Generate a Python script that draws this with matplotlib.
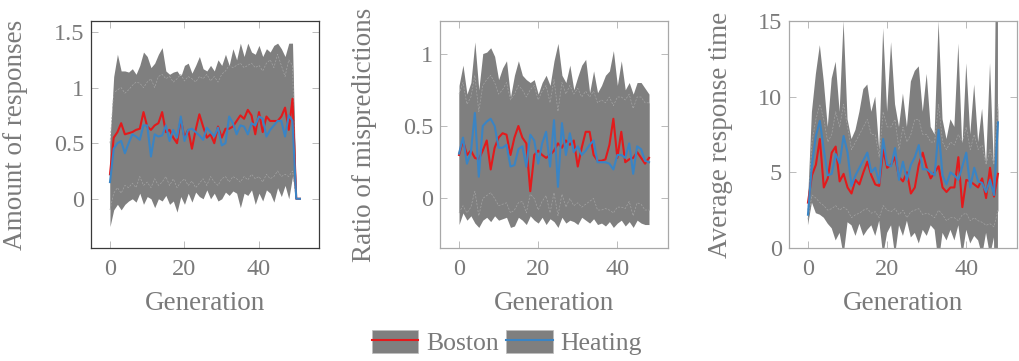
import matplotlib
matplotlib.use("Agg")
import matplotlib.pyplot as plt
import numpy as np
from matplotlib.patches import Patch
from matplotlib.lines import Line2D
from matplotlib.legend_handler import HandlerTuple

# ---- panel 1: amount of responses (generations 0..51) ----
gen1 = list(range(52))
resp_boston = [0.22, 0.55, 0.6, 0.68, 0.58, 0.59, 0.6, 0.62, 0.63, 0.78, 0.65, 0.62, 0.66, 0.68, 0.78, 0.6,
               0.62, 0.55, 0.5, 0.72, 0.55, 0.62, 0.45, 0.62, 0.76, 0.65, 0.55, 0.58, 0.5, 0.65, 0.55, 0.63,
               0.63, 0.65, 0.7, 0.75, 0.72, 0.8, 0.75, 0.58, 0.78, 0.6, 0.74, 0.7, 0.7, 0.7, 0.74, 0.82,
               0.62, 0.9, 0.0, 0.0]
resp_heating = [0.15, 0.45, 0.5, 0.52, 0.41, 0.5, 0.58, 0.56, 0.53, 0.66, 0.66, 0.38, 0.58, 0.56, 0.57, 0.66,
                0.52, 0.62, 0.55, 0.74, 0.52, 0.62, 0.63, 0.6, 0.57, 0.53, 0.64, 0.6, 0.56, 0.64, 0.48, 0.5,
                0.74, 0.68, 0.58, 0.66, 0.65, 0.58, 0.68, 0.66, 0.74, 0.72, 0.56, 0.62, 0.66, 0.7, 0.7, 0.56,
                0.75, 0.7, 0.0, 0.0]
resp_boston_hi = [0.5, 1.1, 1.3, 1.15, 1.15, 1.14, 1.17, 1.12, 1.2, 1.32, 1.28, 1.18, 1.22, 1.3, 1.36, 1.15,
                  1.12, 1.14, 1.15, 1.1, 1.2, 1.22, 1.13, 1.2, 1.28, 1.17, 1.15, 1.2, 1.15, 1.25, 1.2, 1.3,
                  1.2, 1.35, 1.25, 1.4, 1.28, 1.4, 1.32, 1.3, 1.38, 1.28, 1.35, 1.32, 1.38, 1.4, 1.35, 1.28,
                  1.4, 1.4, 0.0, 0.0]
resp_boston_lo = [-0.25, -0.1, -0.05, -0.1, -0.05, -0.02, 0.0, -0.03, 0.05, -0.05, 0.02, 0.0, -0.08, 0.0,
                  -0.02, 0.03, -0.05, -0.02, -0.12, 0.02, -0.05, 0.05, -0.03, 0.06, 0.02, 0.0, 0.08, 0.0, 0.05,
                  -0.02, 0.0, 0.06, 0.03, 0.07, 0.05, -0.08, 0.05, 0.03, 0.08, -0.05, 0.05, -0.02, 0.08, 0.05,
                  -0.03, 0.1, 0.02, 0.12, 0.0, 0.2, 0.0, 0.0]
resp_heating_hi = [0.5, 0.95, 0.98, 1.0, 0.95, 0.98, 1.02, 1.05, 1.04, 1.0, 1.05, 1.08, 1.0, 1.1, 1.12, 1.08,
                   1.1, 1.05, 1.08, 1.12, 1.06, 1.1, 1.08, 1.05, 1.1, 1.08, 1.12, 1.06, 1.1, 1.05, 1.12, 1.15,
                   1.2, 1.18, 1.2, 1.22, 1.18, 1.2, 1.22, 1.18, 1.2, 1.15, 1.22, 1.25, 1.18, 1.3, 1.2, 1.1,
                   1.25, 1.2, 0.0, 0.0]
resp_heating_lo = [-0.1, 0.05, 0.1, 0.05, 0.12, 0.1, 0.14, 0.1, 0.2, 0.12, 0.15, 0.1, 0.18, 0.12, 0.15, 0.2,
                   0.12, 0.18, 0.1, 0.15, 0.18, 0.12, 0.16, 0.1, 0.14, 0.18, 0.12, 0.2, 0.15, 0.12, 0.18, 0.2,
                   0.15, 0.2, 0.18, 0.15, 0.2, 0.17, 0.22, 0.18, 0.2, 0.15, 0.22, 0.18, 0.2, 0.25, 0.2, 0.22,
                   0.2, 0.25, 0.0, 0.0]

# ---- panel 2: ratio of mispredictions (generations 0..48) ----
gen2 = list(range(49))
mis_boston = [0.3, 0.4, 0.3, 0.33, 0.28, 0.27, 0.33, 0.4, 0.2, 0.35, 0.42, 0.45, 0.44, 0.3, 0.42, 0.5, 0.42,
              0.38, 0.05, 0.3, 0.33, 0.3, 0.28, 0.3, 0.33, 0.38, 0.35, 0.4, 0.37, 0.4, 0.22, 0.35, 0.46, 0.46,
              0.3, 0.26, 0.26, 0.27, 0.37, 0.55, 0.28, 0.46, 0.25, 0.27, 0.28, 0.32, 0.28, 0.24, 0.28]
mis_heating = [0.31, 0.42, 0.24, 0.32, 0.59, 0.15, 0.5, 0.53, 0.55, 0.5, 0.35, 0.35, 0.37, 0.22, 0.23, 0.34,
               0.36, 0.22, 0.44, 0.4, 0.24, 0.38, 0.46, 0.22, 0.54, 0.08, 0.52, 0.3, 0.45, 0.32, 0.36, 0.3,
               0.33, 0.37, 0.4, 0.25, 0.25, 0.25, 0.24, 0.2, 0.3, 0.3, 0.28, 0.38, 0.17, 0.36, 0.34, 0.26, 0.25]
mis_boston_hi = [0.78, 0.92, 0.72, 0.8, 1.08, 0.75, 1.0, 1.01, 1.04, 0.98, 0.82, 0.9, 0.95, 0.7, 0.85, 0.95,
                 0.85, 0.82, 0.8, 0.82, 0.72, 0.8, 0.85, 0.78, 0.95, 1.07, 0.85, 0.8, 0.92, 0.75, 0.84, 0.92,
                 0.96, 0.73, 0.88, 0.73, 0.78, 0.85, 0.88, 1.02, 0.78, 0.95, 0.75, 0.8, 0.72, 0.8, 0.8, 0.76, 0.72]
mis_boston_lo = [-0.18, -0.1, -0.15, -0.12, -0.17, -0.2, -0.15, -0.13, -0.16, -0.12, -0.15, -0.14, -0.13,
                 -0.2, -0.19, -0.13, -0.15, -0.18, -0.12, -0.15, -0.17, -0.13, -0.18, -0.14, -0.16, -0.2,
                 -0.13, -0.17, -0.15, -0.16, -0.18, -0.13, -0.15, -0.17, -0.14, -0.18, -0.17, -0.19, -0.16,
                 -0.2, -0.17, -0.15, -0.19, -0.16, -0.2, -0.15, -0.17, -0.18, -0.18]
mis_heating_hi = [0.72, 0.8, 0.65, 0.7, 0.85, 0.6, 0.78, 0.82, 0.85, 0.8, 0.72, 0.75, 0.8, 0.68, 0.72, 0.78,
                  0.75, 0.7, 0.75, 0.78, 0.68, 0.74, 0.78, 0.66, 0.82, 0.6, 0.8, 0.72, 0.78, 0.72, 0.76, 0.7,
                  0.74, 0.7, 0.74, 0.66, 0.68, 0.66, 0.7, 0.64, 0.7, 0.7, 0.68, 0.72, 0.62, 0.7, 0.7, 0.66, 0.66]
mis_heating_lo = [-0.1, -0.05, -0.1, -0.06, 0.05, -0.12, 0.0, 0.02, 0.04, 0.0, -0.05, -0.04, -0.03, -0.1,
                  -0.08, -0.03, -0.02, -0.1, 0.03, 0.0, -0.08, -0.02, 0.02, -0.1, 0.04, -0.12, 0.03, -0.06,
                  0.0, -0.05, -0.03, -0.06, -0.04, -0.02, 0.0, -0.08, -0.08, -0.07, -0.08, -0.1, -0.06, -0.06,
                  -0.07, -0.02, -0.12, -0.03, -0.04, -0.08, -0.08]

# ---- panel 3: average response time (generations 0..48) ----
gen3 = list(range(49))
time_boston = [3.0, 4.8, 5.5, 7.2, 4.0, 4.6, 6.3, 6.7, 4.4, 4.9, 4.0, 3.6, 4.5, 4.2, 5.0, 5.7, 4.8, 4.2, 4.1,
               6.5, 5.3, 5.5, 6.0, 4.7, 4.4, 5.0, 3.6, 4.0, 5.5, 6.3, 5.3, 4.6, 5.0, 5.4, 4.0, 3.7, 4.0, 4.0,
               6.0, 2.7, 4.5, 4.4, 4.2, 4.0, 4.6, 3.3, 5.3, 3.4, 4.9]
time_heating = [2.2, 5.5, 7.4, 8.4, 6.5, 4.8, 4.9, 6.2, 5.6, 7.4, 6.3, 4.1, 4.8, 5.3, 5.8, 6.3, 5.0, 5.3, 4.3,
                7.2, 5.5, 5.4, 6.6, 4.5, 5.7, 4.5, 5.5, 6.0, 6.8, 5.2, 5.2, 5.0, 4.8, 7.8, 4.8, 4.2, 5.0, 4.8,
                4.5, 5.4, 6.3, 4.0, 5.3, 4.4, 4.3, 3.7, 4.5, 3.5, 8.3]
time_boston_hi = [3.0, 9.0, 11.5, 13.4, 11.0, 8.0, 11.2, 12.3, 9.0, 15.0, 8.5, 7.2, 7.8, 9.0, 10.5, 10.8, 9.0,
                  10.0, 6.5, 14.5, 9.0, 13.6, 9.5, 8.0, 10.2, 8.0, 11.0, 11.7, 12.0, 9.0, 11.5, 8.0, 7.5, 15.0,
                  8.5, 7.2, 8.5, 8.0, 13.5, 6.5, 12.2, 7.5, 10.8, 7.0, 9.2, 5.5, 12.2, 5.2, 30.0]
time_boston_lo = [1.5, 3.0, 2.3, 2.2, 2.0, 1.6, 1.3, 0.5, 1.0, -0.5, 1.7, 1.5, 0.8, 1.6, 0.8, 1.2, 1.5, 0.8,
                  1.8, -0.5, 1.0, 1.5, -0.5, 1.5, 0.8, 1.8, 0.7, 1.0, 0.3, 1.2, 0.8, 1.5, 1.2, -1.0, 1.0, 0.5,
                  1.2, 0.5, 1.5, -0.5, 1.2, 0.3, 0.8, 0.5, -0.5, 1.0, -0.5, 0.7, -15.0]
time_heating_hi = [2.5, 7.0, 8.5, 9.5, 8.5, 7.0, 7.5, 9.0, 8.0, 9.5, 8.0, 6.5, 7.0, 7.5, 8.0, 8.5, 7.5, 7.5,
                   6.0, 9.0, 8.0, 8.0, 8.5, 6.5, 8.0, 7.0, 7.5, 8.5, 8.5, 7.5, 7.5, 7.0, 7.0, 9.5, 7.0, 6.5,
                   7.0, 6.8, 7.5, 7.0, 8.0, 6.5, 7.5, 6.5, 6.8, 5.5, 6.5, 5.5, 9.5]
time_heating_lo = [1.9, 3.5, 3.3, 3.0, 2.8, 2.5, 2.6, 2.8, 2.5, 2.7, 2.5, 2.0, 2.2, 2.3, 2.5, 2.6, 2.3, 2.4,
                   2.0, 2.8, 2.5, 2.4, 2.6, 2.2, 2.5, 2.0, 2.4, 2.5, 2.6, 2.2, 2.3, 2.2, 2.0, 2.5, 2.2, 1.8,
                   2.0, 2.0, 1.8, 2.2, 2.3, 1.8, 2.0, 1.8, 1.7, 1.5, 1.6, 1.4, 2.5]

RED = '#e31a1c'
BLUE = '#3a84c4'
BAND = '#7f7f7f'
TXT = '#7a7a7a'

plt.rcParams['font.family'] = ['Liberation Serif', 'DejaVu Serif']

fig = plt.figure(figsize=(10.2, 3.61), dpi=100)

panels = [
    (gen1, resp_boston, resp_heating, resp_boston_lo, resp_boston_hi, resp_heating_lo, resp_heating_hi,
     'Amount of responses', (-5.1, 56.1), (-0.443, 1.60), [0, 0.5, 1, 1.5], ['0', '0.5', '1', '1.5'],
     0.0892, '#3a3a3a', -0.276),
    (gen2, mis_boston, mis_heating, mis_boston_lo, mis_boston_hi, mis_heating_lo, mis_heating_hi,
     'Ratio of mispredictions', (-4.8, 52.8), (-0.342, 1.225), [0, 0.5, 1], ['0', '0.5', '1'],
     0.4314, '#a8a8a8', -0.276),
    (gen3, time_boston, time_heating, time_boston_lo, time_boston_hi, time_heating_lo, time_heating_hi,
     'Average response time', (-4.8, 52.8), (0, 15), [0, 5, 10, 15], ['0', '5', '10', '15'],
     0.7735, '#a8a8a8', -0.246),
]

for (x, b, h, blo, bhi, hlo, hhi, ylab, xl, yl, yt, ytl, left, frame, ylx) in panels:
    ax = fig.add_axes([left, 0.313, 0.2235, 0.629])
    ax.fill_between(x, blo, bhi, color=BAND, lw=0)
    ax.fill_between(x, hlo, hhi, color=BAND, lw=0)
    ax.plot(x, hhi, color='#a3a3a3', lw=0.5, ls=(0, (3, 2)))
    ax.plot(x, hlo, color='#a3a3a3', lw=0.5, ls=(0, (3, 2)))
    ax.plot(x, b, color=RED, lw=1.5)
    ax.plot(x, h, color=BLUE, lw=1.5)
    ax.set_xlim(*xl)
    ax.set_ylim(*yl)
    ax.set_xticks([0, 20, 40])
    ax.set_yticks(yt)
    ax.set_yticklabels(ytl)
    ax.tick_params(direction='in', top=True, right=True, length=5, width=0.6, color='#b0b0b0',
                   labelsize=17.5, labelcolor=TXT)
    ax.tick_params(axis='x', pad=8)
    ax.tick_params(axis='y', pad=5)
    for s in ax.spines.values():
        s.set_color(frame)
        s.set_linewidth(0.9)
    ax.set_ylabel(ylab, fontsize=19.5, color=TXT)
    ax.yaxis.set_label_coords(ylx, 0.5)
    ax.set_xlabel('Generation', fontsize=19.5, color=TXT)
    ax.xaxis.set_label_coords(0.5, -0.19)

handles = [(Patch(facecolor=BAND, edgecolor='#bdbdbd', lw=0.5), Line2D([], [], color=RED, lw=1.5)),
           (Patch(facecolor=BAND, edgecolor='#bdbdbd', lw=0.5), Line2D([], [], color=BLUE, lw=1.5))]
leg = fig.legend(handles, ['Boston', 'Heating'], loc='center', bbox_to_anchor=(0.497, 0.05), ncol=2,
                 frameon=False, fontsize=18.5, handler_map={tuple: HandlerTuple(ndivide=1)},
                 handlelength=1.8, handleheight=0.95, handletextpad=0.3, columnspacing=0.3,
                 borderpad=0.2)
for t in leg.get_texts():
    t.set_color(TXT)

fig.savefig('out.png', dpi=100)
